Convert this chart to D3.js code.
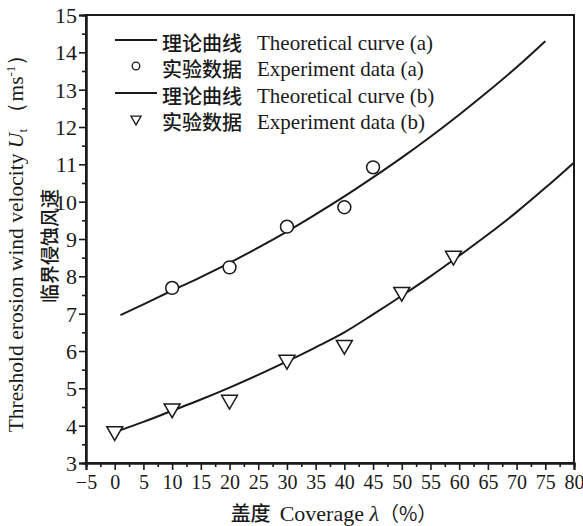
<!DOCTYPE html>
<html>
<head>
<meta charset="utf-8">
<script src="https://cdn.jsdelivr.net/npm/d3@7"></script>
<style>
  html, body { margin: 0; padding: 0; background: #fff; }
  svg { display: block; }
  .serif { font-family: "Liberation Serif", "DejaVu Serif", serif; }
  .cjk { font-family: "Noto Sans CJK SC", sans-serif; }
</style>
</head>
<body>
<div id="chart"></div>
<script>
(function () {
  "use strict";

  const WIDTH = 583;
  const HEIGHT = 526;

  // coverage (%) and threshold velocity (m/s)
  const curveA = [
    [1, 6.96], [5, 7.25], [10, 7.62], [15, 7.98], [20, 8.36], [25, 8.77],
    [30, 9.2], [35, 9.66], [40, 10.14], [45, 10.65], [50, 11.18], [55, 11.74],
    [60, 12.33], [65, 12.95], [70, 13.6], [75, 14.3]
  ];
  const curveB = [
    [1, 3.88], [5, 4.1], [10, 4.4], [15, 4.7], [20, 5.02], [25, 5.36],
    [30, 5.72], [35, 6.1], [40, 6.5], [45, 6.98], [50, 7.48], [55, 8.0],
    [60, 8.55], [65, 9.12], [70, 9.72], [75, 10.37], [80, 11.05]
  ];
  const pointsA = [[10, 7.69], [20, 8.24], [30, 9.33], [40, 9.85], [45, 10.92]];
  const pointsB = [[0, 3.85], [10, 4.46], [20, 4.69], [30, 5.76], [40, 6.16], [50, 7.58], [59, 8.55]];

  const xTicks = d3.range(-5, 81, 5);
  const xMinor = d3.range(-2.5, 80, 5);
  const yTicks = d3.range(3, 16, 1);
  const yMinor = d3.range(3.5, 15, 1);

  const legendItems = [
    { kind: "line", zh: "理论曲线", en: "Theoretical curve (a)" },
    { kind: "circle", zh: "实验数据", en: "Experiment data (a)" },
    { kind: "line", zh: "理论曲线", en: "Theoretical curve (b)" },
    { kind: "triangle", zh: "实验数据", en: "Experiment data (b)" }
  ];

  const INK = "#1a1a1a";
  const plot = { left: 86, right: 574, top: 15, bottom: 463 };

  const x = d3.scaleLinear().domain([-5, 80]).range([plot.left, plot.right]);
  const y = d3.scaleLinear().domain([3, 15]).range([plot.bottom, plot.top]);

  const svg = d3.select("#chart")
    .append("svg")
    .attr("width", WIDTH)
    .attr("height", HEIGHT)
    .attr("viewBox", `0 0 ${WIDTH} ${HEIGHT}`);

  svg.append("rect").attr("width", WIDTH).attr("height", HEIGHT).attr("fill", "#fff");

  // frame
  svg.append("rect")
    .attr("x", plot.left)
    .attr("y", plot.top)
    .attr("width", plot.right - plot.left)
    .attr("height", plot.bottom - plot.top)
    .attr("fill", "none")
    .attr("stroke", INK)
    .attr("stroke-width", 2);

  function drawAxes() {
    const xAxis = d3.axisBottom(x).tickValues(xTicks).tickSize(7).tickPadding(3)
      .tickFormat((d) => (d < 0 ? "\u2212" + Math.abs(d) : d));
    const gx = svg.append("g")
      .attr("transform", `translate(0,${plot.bottom})`)
      .call(xAxis);
    gx.append("g")
      .call(d3.axisBottom(x).tickValues(xMinor).tickSize(4).tickFormat(""));

    const yAxis = d3.axisLeft(y).tickValues(yTicks).tickSize(7).tickPadding(2);
    const gy = svg.append("g")
      .attr("transform", `translate(${plot.left},0)`)
      .call(yAxis);
    gy.append("g")
      .call(d3.axisLeft(y).tickValues(yMinor).tickSize(4).tickFormat(""));

    [gx, gy].forEach((g) => {
      g.selectAll(".domain").attr("stroke", INK).attr("stroke-width", 2);
      g.selectAll(".tick line").attr("stroke", INK).attr("stroke-width", 1.6);
      g.selectAll(".tick text")
        .attr("class", "serif")
        .attr("fill", INK)
        .style("font-size", "20px");
    });
    gx.selectAll(".tick text").attr("dy", "0.78em");
    gy.selectAll(".tick text").style("font-size", "22px").attr("dy", "0.34em");
  }

  function drawCurves() {
    const line = d3.line()
      .x((d) => x(d[0]))
      .y((d) => y(d[1]))
      .curve(d3.curveMonotoneX);

    [curveA, curveB].forEach((data) => {
      svg.append("path")
        .datum(data)
        .attr("d", line)
        .attr("fill", "none")
        .attr("stroke", INK)
        .attr("stroke-width", 2);
    });
  }

  const circleSym = d3.symbol().type(d3.symbolCircle).size(130);
  const triSym = d3.symbol().type(d3.symbolTriangle).size(110);

  function drawPoints() {
    svg.append("g")
      .selectAll("path")
      .data(pointsA)
      .join("path")
      .attr("d", circleSym)
      .attr("transform", (d) => `translate(${x(d[0])},${y(d[1])})`)
      .attr("fill", "#fff")
      .attr("stroke", INK)
      .attr("stroke-width", 1.5);

    svg.append("g")
      .selectAll("path")
      .data(pointsB)
      .join("path")
      .attr("d", triSym)
      .attr("transform", (d) => `translate(${x(d[0])},${y(d[1])}) rotate(180)`)
      .attr("fill", "#fff")
      .attr("stroke", INK)
      .attr("stroke-width", 1.5);
  }

  function drawLegend() {
    const rowY = [40, 66, 93, 119];
    const g = svg.append("g");
    legendItems.forEach((item, i) => {
      const cy = rowY[i];
      if (item.kind === "line") {
        g.append("line")
          .attr("x1", 115).attr("x2", 157)
          .attr("y1", cy).attr("y2", cy)
          .attr("stroke", INK).attr("stroke-width", 2);
      } else if (item.kind === "circle") {
        g.append("path")
          .attr("d", d3.symbol().type(d3.symbolCircle).size(45))
          .attr("transform", `translate(136,${cy})`)
          .attr("fill", "none").attr("stroke", INK).attr("stroke-width", 1.3);
      } else {
        g.append("path")
          .attr("d", d3.symbol().type(d3.symbolTriangle).size(45))
          .attr("transform", `translate(136,${cy}) rotate(180)`)
          .attr("fill", "none").attr("stroke", INK).attr("stroke-width", 1.3);
      }
      g.append("text")
        .attr("class", "cjk")
        .attr("x", 162)
        .attr("y", cy + 2)
        .attr("dominant-baseline", "central")
        .attr("fill", INK)
        .style("font-size", "20px")
        .style("font-weight", 500)
        .text(item.zh);
      g.append("text")
        .attr("class", "serif")
        .attr("x", 257)
        .attr("y", cy + 10)
        .attr("fill", INK)
        .style("font-size", "21px")
        .text(item.en);
    });
  }

  function drawTitles() {
    // y title, english
    const ty = svg.append("text")
      .attr("class", "serif")
      .attr("transform", "translate(23,238) rotate(-90)")
      .attr("text-anchor", "middle")
      .attr("fill", INK)
      .style("font-size", "21.5px");
    ty.append("tspan").text("Threshold erosion wind velocity ");
    ty.append("tspan").attr("font-style", "italic").text("U");
    ty.append("tspan").attr("dy", 4).style("font-size", "13px").text("t");
    ty.append("tspan").attr("dy", -4).text(" （ms");
    ty.append("tspan").attr("dy", -8).style("font-size", "13px").text("-1");
    ty.append("tspan").attr("dy", 8).text("）");

    svg.append("text")
      .attr("class", "cjk")
      .attr("transform", "translate(48,246) rotate(-90)")
      .attr("text-anchor", "middle")
      .attr("dominant-baseline", "central")
      .attr("fill", INK)
      .style("font-size", "19px")
      .style("font-weight", 500)
      .text("临界侵蚀风速");

    // x title
    const tx = svg.append("text")
      .attr("x", 334)
      .attr("y", 521)
      .attr("text-anchor", "middle")
      .attr("fill", INK)
      .style("font-size", "22px");
    tx.append("tspan").attr("class", "cjk").style("font-size", "20px").style("font-weight", 500).text("盖度\u00a0\u00a0");
    tx.append("tspan").attr("class", "serif").text("Coverage ");
    tx.append("tspan").attr("class", "serif").attr("font-style", "italic").text("λ");
    tx.append("tspan").attr("class", "cjk").style("font-size", "20px").text("（%）");
  }

  drawAxes();
  drawCurves();
  drawPoints();
  drawLegend();
  drawTitles();
})();
</script>
</body>
</html>
